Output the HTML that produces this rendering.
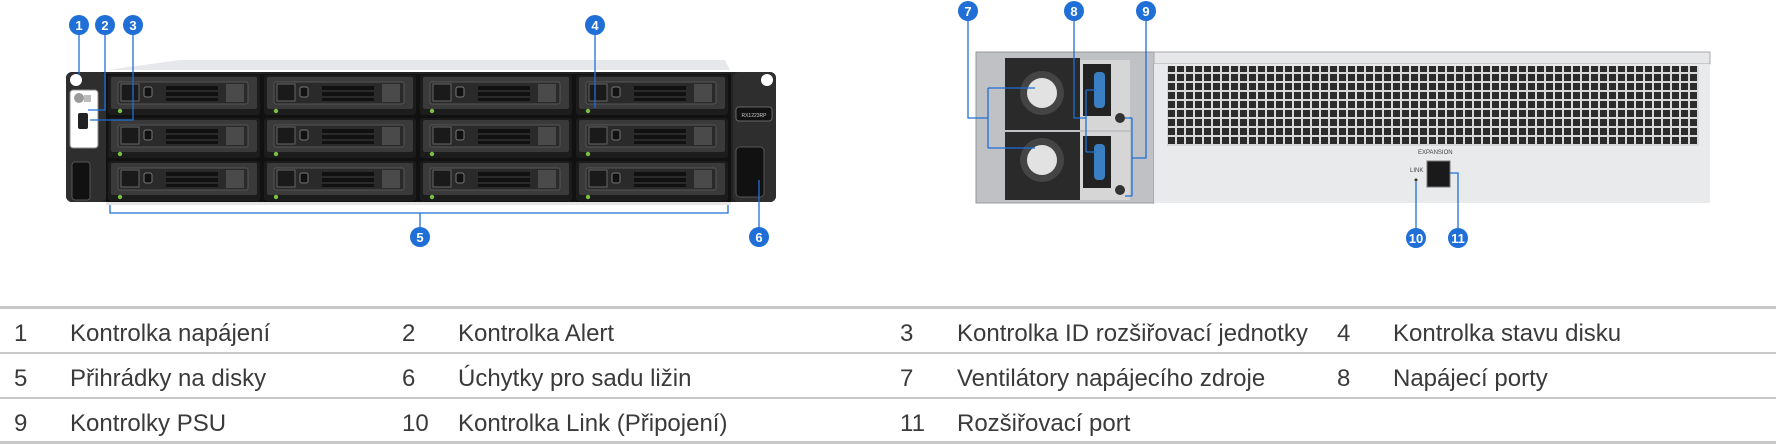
<!DOCTYPE html>
<html><head><meta charset="utf-8"><style>
html,body{margin:0;padding:0;background:#fff;width:1776px;height:445px;overflow:hidden}
svg{display:block}
.t{font-family:"Liberation Sans",sans-serif;font-size:24px;fill:#3a3a3a}
.n{font-family:"Liberation Sans",sans-serif;font-size:13px;fill:#fff;font-weight:bold;text-anchor:middle}
</style></head><body>
<svg width="1776" height="445" viewBox="0 0 1776 445" xmlns="http://www.w3.org/2000/svg">
<defs>
<pattern id="gr" x="1167" y="64" width="9" height="9" patternUnits="userSpaceOnUse">
<rect width="9" height="9" fill="#d8d8d8"/><rect x="1" y="1" width="7" height="7" fill="#2b2b2b"/>
</pattern>
<g id="bay">
<rect x="0" y="0" width="152" height="40" rx="3" fill="#1c1c1c"/>
<rect x="3" y="2" width="146" height="32" rx="2" fill="#3a3a3a"/>
<rect x="10" y="7" width="130" height="22" rx="2" fill="#2a2a2a" stroke="#555"/>
<rect x="13" y="9" width="18" height="17" fill="#1a1a1a" stroke="#666"/>
<rect x="36" y="12" width="8" height="10" rx="2" fill="#111" stroke="#777"/>
<rect x="58" y="11" width="52" height="4" fill="#111"/><rect x="58" y="17" width="52" height="4" fill="#111"/><rect x="58" y="23" width="52" height="3" fill="#111"/>
<rect x="118" y="9" width="18" height="18" fill="#4a4a4a"/>
<circle cx="12" cy="36" r="2.2" fill="#7bc043"/>
</g>
</defs>

<polygon points="107,70 180,60 725,60 730,70" fill="#e6e8eb"/>
<rect x="66" y="72" width="710" height="130" rx="6" fill="#222"/>
<rect x="66" y="72" width="40" height="130" rx="6" fill="#2e2e2e"/>
<rect x="733" y="72" width="43" height="130" rx="6" fill="#2e2e2e"/>
<circle cx="76" cy="80" r="6" fill="#fff"/><circle cx="767" cy="80" r="6" fill="#fff"/>
<rect x="70" y="90" width="28" height="58" rx="3" fill="#fff" stroke="#888"/>
<circle cx="79" cy="98" r="5" fill="#999"/><rect x="84" y="95" width="7" height="7" fill="#bbb"/>
<rect x="78" y="113" width="10" height="16" rx="2" fill="#222"/>
<rect x="72" y="162" width="18" height="38" rx="3" fill="#111" stroke="#555"/>
<rect x="736" y="147" width="28" height="50" rx="4" fill="#111" stroke="#555"/>
<rect x="736" y="107" width="36" height="14" rx="3" fill="#111" stroke="#666"/>
<text x="754" y="117" font-family="Liberation Sans" font-size="5" fill="#ccc" text-anchor="middle">RX1223RP</text>
<rect x="106" y="74" width="625" height="128" fill="#111"/>
<use href="#bay" x="108" y="75"/><use href="#bay" x="264" y="75"/><use href="#bay" x="420" y="75"/><use href="#bay" x="576" y="75"/>
<use href="#bay" x="108" y="118"/><use href="#bay" x="264" y="118"/><use href="#bay" x="420" y="118"/><use href="#bay" x="576" y="118"/>
<use href="#bay" x="108" y="161"/><use href="#bay" x="264" y="161"/><use href="#bay" x="420" y="161"/><use href="#bay" x="576" y="161"/>
<rect x="106" y="202" width="625" height="3" fill="#e5e5e5"/>

<rect x="976" y="52" width="734" height="151" fill="#cfd1d4"/>
<rect x="976" y="52" width="178" height="151" fill="#bfc1c4" stroke="#999"/>
<rect x="1005" y="58" width="75" height="72" fill="#2a2a2a"/><rect x="1005" y="132" width="75" height="68" fill="#2a2a2a"/>
<circle cx="1042" cy="93" r="22" fill="#444"/><circle cx="1042" cy="93" r="15" fill="#e2e2e2"/>
<circle cx="1042" cy="160" r="22" fill="#444"/><circle cx="1042" cy="160" r="15" fill="#e2e2e2"/>
<rect x="1080" y="60" width="50" height="70" fill="#d6d6d6"/><rect x="1080" y="132" width="50" height="68" fill="#d6d6d6"/>
<rect x="1083" y="64" width="28" height="52" fill="#222"/><rect x="1083" y="136" width="28" height="52" fill="#222"/>
<rect x="1094" y="72" width="11" height="36" rx="4" fill="#3a7fc1"/><rect x="1094" y="144" width="11" height="36" rx="4" fill="#3a7fc1"/>
<circle cx="1120" cy="118" r="5" fill="#333"/><circle cx="1120" cy="190" r="5" fill="#333"/>
<rect x="1154" y="52" width="556" height="12" fill="#e6e7e9" stroke="#aaa"/>
<rect x="1154" y="64" width="556" height="139" fill="#e9eaec"/>
<rect x="1167" y="66" width="532" height="80" fill="url(#gr)"/>
<rect x="1427" y="161" width="23" height="26" fill="#1a1a1a" stroke="#777"/>
<text x="1418" y="154" font-family="Liberation Sans" font-size="6" fill="#444">EXPANSION</text>
<text x="1410" y="172" font-family="Liberation Sans" font-size="6" fill="#444">LINK</text>
<circle cx="1416" cy="180" r="1.5" fill="#333"/>

<g stroke="#1f6fd6" stroke-width="1.3" fill="none">
<path d="M79 34V75"/><path d="M105 34V110H88"/><path d="M133 34V120H90"/><path d="M595 34V108"/>
<path d="M110 205V213H728V205M420 213V228"/><path d="M759 228V180"/>
<path d="M968 20V118H988M988 88V148M988 88H1035M988 148H1035"/>
<path d="M1074 20V118H1086M1086 90V152M1086 90H1096M1086 152H1096"/>
<path d="M1146 20V158H1132M1132 118V196M1132 118H1125M1132 196H1125"/>
<path d="M1416 229V182"/><path d="M1458 229V173H1450"/>
</g>
<g fill="#1f6fd6">
<circle cx="79" cy="25" r="10"/><circle cx="105" cy="25" r="10"/><circle cx="133" cy="25" r="10"/><circle cx="595" cy="25" r="10"/>
<circle cx="420" cy="237" r="10"/><circle cx="759" cy="237" r="10"/><circle cx="968" cy="11" r="10"/><circle cx="1074" cy="11" r="10"/>
<circle cx="1146" cy="11" r="10"/><circle cx="1416" cy="238" r="10"/><circle cx="1458" cy="238" r="10"/>
</g>
<text class="n" x="79" y="30">1</text><text class="n" x="105" y="30">2</text><text class="n" x="133" y="30">3</text><text class="n" x="595" y="30">4</text>
<text class="n" x="420" y="242">5</text><text class="n" x="759" y="242">6</text><text class="n" x="968" y="16">7</text><text class="n" x="1074" y="16">8</text>
<text class="n" x="1146" y="16">9</text><text class="n" x="1416" y="243">10</text><text class="n" x="1458" y="243">11</text>

<g fill="#c8c8c8">
<rect x="0" y="306" width="1776" height="3"/><rect x="0" y="352" width="1776" height="2"/><rect x="0" y="397" width="1776" height="2"/><rect x="0" y="441" width="1776" height="3"/>
</g>
<g class="t">
<text x="14" y="341">1</text><text x="70" y="341">Kontrolka napájení</text>
<text x="402" y="341">2</text><text x="458" y="341">Kontrolka Alert</text>
<text x="900" y="341">3</text><text x="957" y="341">Kontrolka ID rozšiřovací jednotky</text>
<text x="1337" y="341">4</text><text x="1393" y="341">Kontrolka stavu disku</text>
<text x="14" y="386">5</text><text x="70" y="386">Přihrádky na disky</text>
<text x="402" y="386">6</text><text x="458" y="386">Úchytky pro sadu ližin</text>
<text x="900" y="386">7</text><text x="957" y="386">Ventilátory napájecího zdroje</text>
<text x="1337" y="386">8</text><text x="1393" y="386">Napájecí porty</text>
<text x="14" y="431">9</text><text x="70" y="431">Kontrolky PSU</text>
<text x="402" y="431">10</text><text x="458" y="431">Kontrolka Link (Připojení)</text>
<text x="900" y="431">11</text><text x="957" y="431">Rozšiřovací port</text>
</g>
</svg>
</body></html>
